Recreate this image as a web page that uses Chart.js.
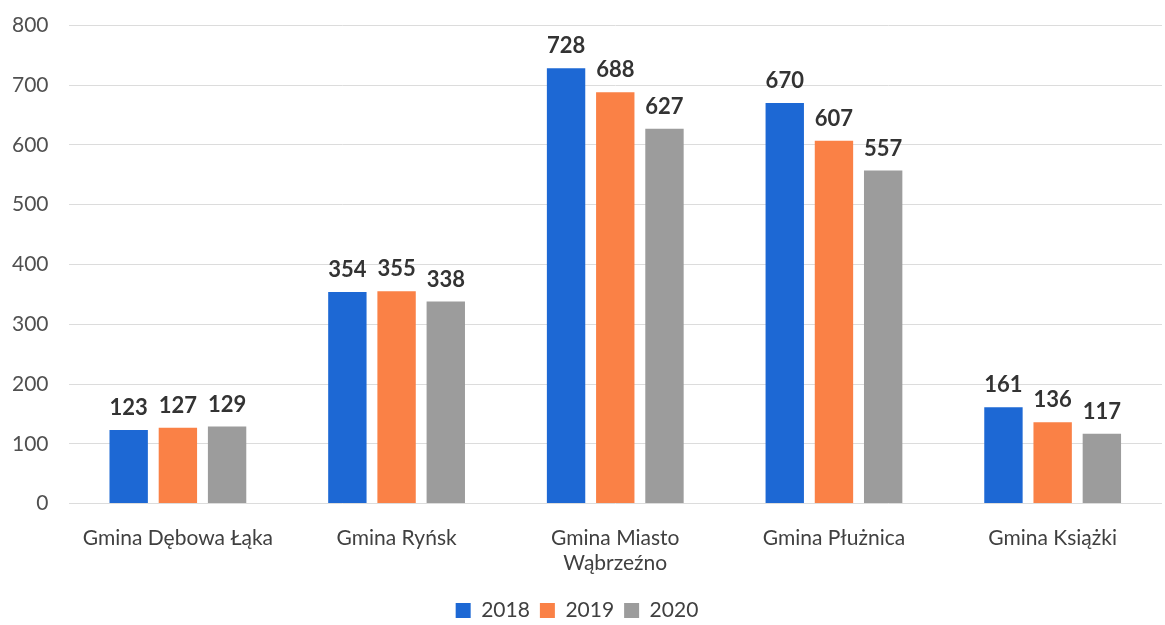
<!DOCTYPE html>
<html lang="pl">
<head>
<meta charset="UTF-8">
<title>Wykres</title>
<script src="https://cdn.jsdelivr.net/npm/chart.js"></script>
<style>
  body, html {
    margin: 0;
    background: #ffffff;
  }
  .wrap {
    width: 1165px;
    height: 625px;
    position: relative;
  }
</style>
</head>
<body>
<div class="wrap">
  <canvas id="chart"></canvas>
</div>
<script>
// dane
var categories = [
  'Gmina Dębowa Łąka',
  'Gmina Ryńsk',
  ['Gmina Miasto', 'Wąbrzeźno'],
  'Gmina Płużnica',
  'Gmina Książki'
];
var years = ['2018', '2019', '2020'];
var values2018 = [123, 354, 728, 670, 161];
var values2019 = [127, 355, 688, 607, 136];
var values2020 = [129, 338, 627, 557, 117];
var yTicks = [0, 100, 200, 300, 400, 500, 600, 700, 800];

var colors = ['#1d68d4', '#fa8146', '#9c9c9c'];
var fontFamily = 'Lato, "Open Sans", sans-serif';

// etykiety nad słupkami
var barLabels = {
  id: 'barLabels',
  afterDatasetsDraw: function(chart) {
    var ctx = chart.ctx;
    ctx.save();
    ctx.font = 'bold 22px ' + fontFamily;
    ctx.fillStyle = '#333333';
    ctx.textAlign = 'center';
    ctx.textBaseline = 'bottom';
    chart.data.datasets.forEach(function(ds, i) {
      chart.getDatasetMeta(i).data.forEach(function(bar, j) {
        ctx.fillText(ds.data[j], bar.x, bar.y - 11);
      });
    });
    ctx.restore();
  }
};

new Chart(document.getElementById('chart'), {
  type: 'bar',
  data: {
    labels: categories,
    datasets: [
      { label: years[0], data: values2018, backgroundColor: colors[0] },
      { label: years[1], data: values2019, backgroundColor: colors[1] },
      { label: years[2], data: values2020, backgroundColor: colors[2] }
    ]
  },
  options: {
    responsive: true,
    maintainAspectRatio: false,
    animation: false,
    categoryPercentage: 0.675,
    barPercentage: 0.78,
    layout: { padding: { top: 7, right: 3, left: -8, bottom: -6 } },
    plugins: {
      legend: {
        position: 'bottom',
        labels: {
          boxWidth: 15,
          boxHeight: 15,
          padding: 10,
          color: '#404040',
          font: { size: 21, family: fontFamily }
        }
      },
      tooltip: { enabled: false }
    },
    scales: {
      x: {
        grid: { display: false },
        border: { display: false },
        ticks: {
          color: '#404040',
          padding: 14,
          maxRotation: 0,
          autoSkip: false,
          font: { size: 21, family: fontFamily }
        }
      },
      y: {
        min: yTicks[0],
        max: yTicks[yTicks.length - 1],
        afterBuildTicks: function(axis) {
          axis.ticks = yTicks.map(function(v) { return { value: v }; });
        },
        grid: { color: '#dcdcdc', lineWidth: 1, drawTicks: false },
        border: { display: false },
        ticks: {
          color: '#505050',
          padding: 20,
          font: { size: 21, family: fontFamily, lineHeight: 0.5 }
        }
      }
    }
  },
  plugins: [barLabels]
});
</script>
</body>
</html>
